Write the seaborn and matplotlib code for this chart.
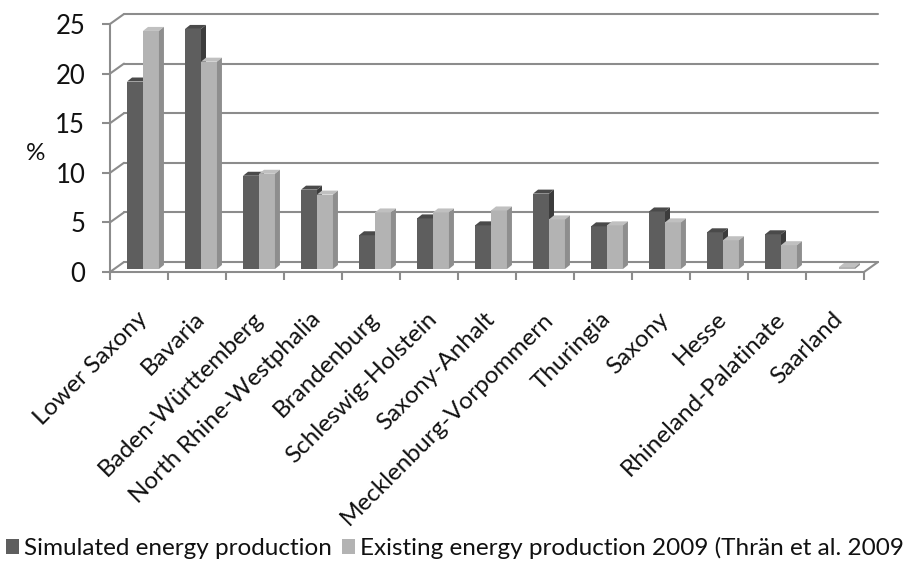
import numpy as np
import pandas as pd
import matplotlib
matplotlib.use("Agg")
import matplotlib.pyplot as plt
import matplotlib.transforms as mtransforms
from matplotlib.patches import Polygon, Patch
import seaborn as sns

# ---- data -------------------------------------------------------------
states = ["Lower Saxony", "Bavaria", "Baden-Württemberg", "North Rhine-Westphalia",
          "Brandenburg", "Schleswig-Holstein", "Saxony-Anhalt",
          "Mecklenburg-Vorpommern", "Thuringia", "Saxony", "Hesse",
          "Rhineland-Palatinate", "Saarland"]
simulated = [18.9, 24.2, 9.4, 8.0, 3.4, 5.1, 4.4, 7.6, 4.3, 5.8, 3.7, 3.5, 0.0]
existing = [24.0, 20.9, 9.6, 7.5, 5.7, 5.7, 5.9, 5.0, 4.4, 4.7, 2.9, 2.4, 0.2]
series_names = ["Simulated energy production",
                "Existing energy production 2009 (Thrän et al. 2009"]
y_ticks = [0, 5, 10, 15, 20, 25]

# ---- style ------------------------------------------------------------
sns.set_theme(style="white")
plt.rcParams["font.family"] = ["Lato", "DejaVu Sans"]
FS = 17.5
TXT = "#111111"
GRID = "#8c8c8c"
DARK, DARK_TOP, DARK_SIDE = "#5e5e5e", "#4a4a4a", "#3c3c3c"
LIGHT, LIGHT_TOP, LIGHT_SIDE = "#b3b3b3", "#c0c0c0", "#8e8e8e"

W, H, DPI = 921, 562, 100
fig = plt.figure(figsize=(W / DPI, H / DPI), dpi=DPI)
fig.patch.set_facecolor("white")
ax_w_px, ax_h_px = 754, 248
ax = fig.add_axes([110 / W, (H - 272) / H, ax_w_px / W, ax_h_px / H])

df = pd.DataFrame({
    "state": states * 2,
    "value": simulated + existing,
    "series": [series_names[0]] * len(states) + [series_names[1]] * len(states),
})
sns.barplot(data=df, x="state", y="value", hue="series", order=states,
            hue_order=series_names, palette=[DARK, LIGHT], width=0.55, gap=0,
            saturation=1, linewidth=0, legend=False, ax=ax)

n = len(states)
ax.set_xlim(-0.5, n - 0.5)
ax.set_ylim(0, 25)
px_x = ax_w_px / n          # pixels per category
px_y = ax_h_px / 25         # pixels per percent

# pseudo-3D geometry (pixel offsets converted to data units)
wall_dx, wall_dy = 14 / px_x, 10 / px_y     # back wall depth
bar_dx, bar_dy = 4 / px_x, 3 / px_y         # bars stand mid-depth
face_dx, face_dy = 5 / px_x, 4 / px_y       # bar thickness

# back-wall gridlines, left-wall edges and the floor's right edge
for v in y_ticks:
    ax.plot([-0.5 + wall_dx, n - 0.5 + wall_dx], [v + wall_dy] * 2,
            color=GRID, lw=1.5, clip_on=False, zorder=1)
    ax.plot([-0.5, -0.5 + wall_dx], [v, v + wall_dy],
            color=GRID, lw=1.5, clip_on=False, zorder=1)
ax.plot([n - 0.5, n - 0.5 + wall_dx], [0, wall_dy],
        color=GRID, lw=1.5, clip_on=False, zorder=1)

# move bars to mid-depth and give them top and side faces
dark_rgb = matplotlib.colors.to_rgb(DARK)
for p in list(ax.patches):
    x, w, h = p.get_x(), p.get_width(), p.get_height()
    is_dark = np.allclose(p.get_facecolor()[:3], dark_rgb, atol=0.02)
    z = 3 if is_dark else 4
    top_c, side_c = (DARK_TOP, DARK_SIDE) if is_dark else (LIGHT_TOP, LIGHT_SIDE)
    p.set_x(x + bar_dx)
    p.set_y(bar_dy)
    p.set_zorder(z)
    p.set_clip_on(False)
    if h <= 0:
        continue
    x0, x1 = x + bar_dx, x + w + bar_dx
    y0, y1 = bar_dy, bar_dy + h
    top = Polygon([(x0, y1), (x1, y1), (x1 + face_dx, y1 + face_dy),
                   (x0 + face_dx, y1 + face_dy)],
                  closed=True, facecolor=top_c, edgecolor="none",
                  zorder=z, clip_on=False)
    side = Polygon([(x1, y0), (x1 + face_dx, y0 + face_dy),
                    (x1 + face_dx, y1 + face_dy), (x1, y1)],
                   closed=True, facecolor=side_c, edgecolor="none",
                   zorder=z, clip_on=False)
    ax.add_patch(top)
    ax.add_patch(side)

# axes frame
for s in ["top", "right"]:
    ax.spines[s].set_visible(False)
for s in ["left", "bottom"]:
    ax.spines[s].set_color(GRID)
    ax.spines[s].set_linewidth(1.5)
    ax.spines[s].set_zorder(2)

ax.set_yticks(y_ticks)
ax.tick_params(axis="y", direction="out", length=5.8, width=1.5, color=GRID,
               labelsize=FS + 1, pad=12, left=True, labelcolor=TXT)
ax.set_xticks(range(n))
ax.set_xticklabels(states, rotation=45, ha="right", rotation_mode="anchor")
ax.set_xticks(np.arange(-0.5, n, 1.0), minor=True)
ax.tick_params(axis="x", which="major", length=0, labelsize=FS, pad=26,
               labelcolor=TXT)
ax.tick_params(axis="x", which="minor", direction="out", length=6, width=1.5,
               color=GRID, bottom=True)
shift = mtransforms.ScaledTranslation(-3 / DPI, 0, fig.dpi_scale_trans)
for lab in ax.get_xticklabels():
    lab.set_transform(lab.get_transform() + shift)

ax.set_xlabel("")
ax.set_ylabel("%", rotation=0, fontsize=FS, color=TXT)
ax.yaxis.set_label_coords((36 - 110) / ax_w_px, (272 - 164) / ax_h_px)

handles = [Patch(facecolor=DARK, edgecolor="none"),
           Patch(facecolor=LIGHT, edgecolor="none")]
fig.legend(handles, series_names, loc="center left",
           bbox_to_anchor=(6 / W, 1 - 548 / H), ncol=2, frameon=False,
           fontsize=FS, handlelength=0.55, handleheight=0.55,
           handletextpad=0.2, columnspacing=0.4, borderaxespad=0,
           borderpad=0, labelcolor=TXT)

fig.savefig("out.png", dpi=DPI, facecolor="white")
